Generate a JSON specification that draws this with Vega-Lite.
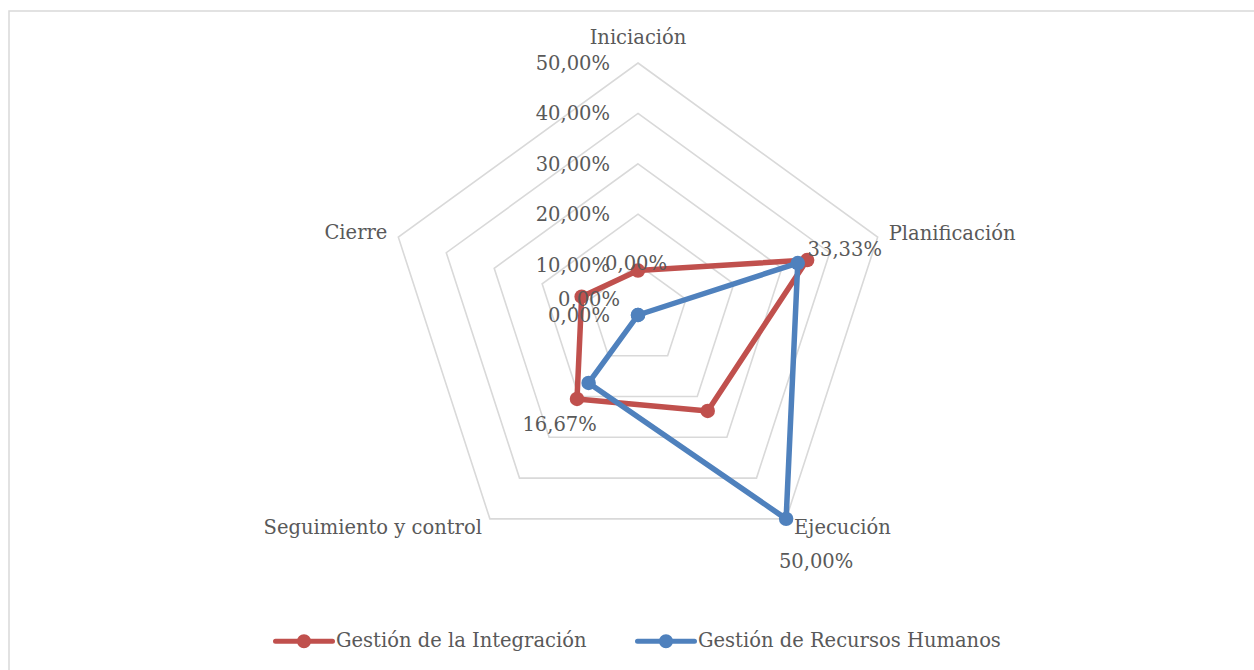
{
 "$schema": "https://vega.github.io/schema/vega-lite/v6.json",
 "width": 1247, "height": 661,
 "autosize": {"type": "none"},
 "padding": {"left": 9, "top": 11, "right": -2, "bottom": -2},
 "config": {
   "view": {"stroke": "#d9d9d9", "strokeWidth": 1.5},
   "locale": {"number": {"decimal": ",", "thousands": ".", "grouping": [3], "currency": ["", " €"]}},
   "text": {"font": "DejaVu Serif", "fontSize": 19.5, "fill": "#595959"}
 },
 "datasets": {
   "series": [
     {"serie": "Gestión de la Integración", "cat": "Iniciación", "idx": 0, "v": 0.0882},
     {"serie": "Gestión de la Integración", "cat": "Planificación", "idx": 1, "v": 0.3529},
     {"serie": "Gestión de la Integración", "cat": "Ejecución", "idx": 2, "v": 0.2353},
     {"serie": "Gestión de la Integración", "cat": "Seguimiento y control", "idx": 3, "v": 0.2059},
     {"serie": "Gestión de la Integración", "cat": "Cierre", "idx": 4, "v": 0.1176},
     {"serie": "Gestión de Recursos Humanos", "cat": "Iniciación", "idx": 0, "v": 0},
     {"serie": "Gestión de Recursos Humanos", "cat": "Planificación", "idx": 1, "v": 0.3333},
     {"serie": "Gestión de Recursos Humanos", "cat": "Ejecución", "idx": 2, "v": 0.5},
     {"serie": "Gestión de Recursos Humanos", "cat": "Seguimiento y control", "idx": 3, "v": 0.1667},
     {"serie": "Gestión de Recursos Humanos", "cat": "Cierre", "idx": 4, "v": 0}
   ],
   "grid": [
     {"level": 0.1, "idx": 0}, {"level": 0.1, "idx": 1}, {"level": 0.1, "idx": 2}, {"level": 0.1, "idx": 3}, {"level": 0.1, "idx": 4},
     {"level": 0.2, "idx": 0}, {"level": 0.2, "idx": 1}, {"level": 0.2, "idx": 2}, {"level": 0.2, "idx": 3}, {"level": 0.2, "idx": 4},
     {"level": 0.3, "idx": 0}, {"level": 0.3, "idx": 1}, {"level": 0.3, "idx": 2}, {"level": 0.3, "idx": 3}, {"level": 0.3, "idx": 4},
     {"level": 0.4, "idx": 0}, {"level": 0.4, "idx": 1}, {"level": 0.4, "idx": 2}, {"level": 0.4, "idx": 3}, {"level": 0.4, "idx": 4},
     {"level": 0.5, "idx": 0}, {"level": 0.5, "idx": 1}, {"level": 0.5, "idx": 2}, {"level": 0.5, "idx": 3}, {"level": 0.5, "idx": 4}
   ],
   "ticks": [
     {"level": 0, "idx": 0}, {"level": 0.1, "idx": 0}, {"level": 0.2, "idx": 0},
     {"level": 0.3, "idx": 0}, {"level": 0.4, "idx": 0}, {"level": 0.5, "idx": 0}
   ],
   "cats": [
     {"cat": "Iniciación", "idx": 0, "level": 0.5},
     {"cat": "Planificación", "idx": 1, "level": 0.5},
     {"cat": "Ejecución", "idx": 2, "level": 0.5},
     {"cat": "Seguimiento y control", "idx": 3, "level": 0.5},
     {"cat": "Cierre", "idx": 4, "level": 0.5}
   ]
 },
 "encoding": {
   "x": {"field": "px", "type": "quantitative", "axis": null, "scale": {"domain": [-1.248016, 1.22619], "nice": false, "zero": false}},
   "y": {"field": "py", "type": "quantitative", "axis": null, "scale": {"domain": [-0.708333, 0.603175], "nice": false, "zero": false}}
 },
 "layer": [
   {
     "data": {"name": "grid"},
     "transform": [
       {"calculate": "PI/2 - datum.idx*2*PI/5", "as": "a"},
       {"calculate": "datum.level*cos(datum.a)", "as": "px"},
       {"calculate": "datum.level*sin(datum.a)", "as": "py"}
     ],
     "mark": {"type": "line", "interpolate": "linear-closed", "stroke": "#d9d9d9", "strokeWidth": 1.6},
     "encoding": {"detail": {"field": "level"}, "order": {"field": "idx"}}
   },
   {
     "data": {"name": "series"},
     "transform": [
       {"calculate": "PI/2 - datum.idx*2*PI/5", "as": "a"},
       {"calculate": "datum.v*cos(datum.a)", "as": "px"},
       {"calculate": "datum.v*sin(datum.a)", "as": "py"}
     ],
     "mark": {"type": "line", "interpolate": "linear-closed", "strokeWidth": 5.5, "strokeJoin": "round"},
     "encoding": {
       "order": {"field": "idx"},
       "color": {"field": "serie", "type": "nominal",
         "scale": {"domain": ["Gestión de la Integración", "Gestión de Recursos Humanos"], "range": ["#C0504D", "#4F81BD"]},
         "legend": {"title": null, "orient": "none", "legendX": 264, "legendY": 599, "direction": "horizontal",
           "symbolType": "M-1,0L1,0M-0.16,0A0.16,0.16,0,1,1,0.16,0A0.16,0.16,0,1,1,-0.16,0Z",
           "symbolSize": 3249, "symbolStrokeWidth": 5, "symbolOpacity": 1,
           "labelFont": "DejaVu Serif", "labelFontSize": 19.5, "labelColor": "#595959", "labelOffset": 1,
           "columnPadding": 40, "padding": 0, "labelLimit": 400,
           "encode": {"symbols": {"update": {"fill": {"scale": "color", "field": "value"}, "stroke": {"scale": "color", "field": "value"}, "strokeCap": {"value": "round"}}}}}
       }
     }
   },
   {
     "data": {"name": "series"},
     "transform": [
       {"calculate": "PI/2 - datum.idx*2*PI/5", "as": "a"},
       {"calculate": "datum.v*cos(datum.a)", "as": "px"},
       {"calculate": "datum.v*sin(datum.a)", "as": "py"}
     ],
     "mark": {"type": "point", "filled": true, "size": 210, "opacity": 1},
     "encoding": {
       "color": {"field": "serie", "type": "nominal",
         "scale": {"domain": ["Gestión de la Integración", "Gestión de Recursos Humanos"], "range": ["#C0504D", "#4F81BD"]},
         "legend": {"title": null, "orient": "none", "legendX": 264, "legendY": 599, "direction": "horizontal",
           "symbolType": "M-1,0L1,0M-0.16,0A0.16,0.16,0,1,1,0.16,0A0.16,0.16,0,1,1,-0.16,0Z",
           "symbolSize": 3249, "symbolStrokeWidth": 5, "symbolOpacity": 1,
           "labelFont": "DejaVu Serif", "labelFontSize": 19.5, "labelColor": "#595959", "labelOffset": 1,
           "columnPadding": 40, "padding": 0, "labelLimit": 400,
           "encode": {"symbols": {"update": {"fill": {"scale": "color", "field": "value"}, "stroke": {"scale": "color", "field": "value"}, "strokeCap": {"value": "round"}}}}}
       }
     }
   },
   {
     "data": {"name": "ticks"},
     "transform": [
       {"calculate": "PI/2 - datum.idx*2*PI/5", "as": "a"},
       {"calculate": "datum.level*cos(datum.a)", "as": "px"},
       {"calculate": "datum.level*sin(datum.a)", "as": "py"}
     ],
     "mark": {"type": "text", "align": "right", "baseline": "middle", "dx": -28, "dy": 1},
     "encoding": {"text": {"field": "level", "type": "quantitative", "format": ".2%"}}
   },
   {
     "data": {"name": "cats"},
     "transform": [
       {"filter": "datum.idx == 0"},
       {"calculate": "PI/2 - datum.idx*2*PI/5", "as": "a"},
       {"calculate": "datum.level*cos(datum.a)", "as": "px"},
       {"calculate": "datum.level*sin(datum.a)", "as": "py"}
     ],
     "mark": {"type": "text", "align": "center", "baseline": "middle", "dy": -25},
     "encoding": {"text": {"field": "cat"}}
   },
   {
     "data": {"name": "cats"},
     "transform": [
       {"filter": "datum.idx == 1"},
       {"calculate": "PI/2 - datum.idx*2*PI/5", "as": "a"},
       {"calculate": "datum.level*cos(datum.a)", "as": "px"},
       {"calculate": "datum.level*sin(datum.a)", "as": "py"}
     ],
     "mark": {"type": "text", "align": "left", "baseline": "middle", "dx": 11, "dy": -3},
     "encoding": {"text": {"field": "cat"}}
   },
   {
     "data": {"name": "cats"},
     "transform": [
       {"filter": "datum.idx == 2"},
       {"calculate": "PI/2 - datum.idx*2*PI/5", "as": "a"},
       {"calculate": "datum.level*cos(datum.a)", "as": "px"},
       {"calculate": "datum.level*sin(datum.a)", "as": "py"}
     ],
     "mark": {"type": "text", "align": "left", "baseline": "middle", "dx": 8, "dy": 9},
     "encoding": {"text": {"field": "cat"}}
   },
   {
     "data": {"name": "cats"},
     "transform": [
       {"filter": "datum.idx == 3"},
       {"calculate": "PI/2 - datum.idx*2*PI/5", "as": "a"},
       {"calculate": "datum.level*cos(datum.a)", "as": "px"},
       {"calculate": "datum.level*sin(datum.a)", "as": "py"}
     ],
     "mark": {"type": "text", "align": "right", "baseline": "middle", "dx": -8, "dy": 9},
     "encoding": {"text": {"field": "cat"}}
   },
   {
     "data": {"name": "cats"},
     "transform": [
       {"filter": "datum.idx == 4"},
       {"calculate": "PI/2 - datum.idx*2*PI/5", "as": "a"},
       {"calculate": "datum.level*cos(datum.a)", "as": "px"},
       {"calculate": "datum.level*sin(datum.a)", "as": "py"}
     ],
     "mark": {"type": "text", "align": "right", "baseline": "middle", "dx": -11, "dy": -4},
     "encoding": {"text": {"field": "cat"}}
   },
   {
     "data": {"name": "series"},
     "transform": [
       {"filter": "datum.serie == 'Gestión de Recursos Humanos' && datum.idx == 0"},
       {"calculate": "PI/2 - datum.idx*2*PI/5", "as": "a"},
       {"calculate": "datum.v*cos(datum.a)", "as": "px"},
       {"calculate": "datum.v*sin(datum.a)", "as": "py"}
     ],
     "mark": {"type": "text", "align": "center", "baseline": "middle", "dx": -2, "dy": -51},
     "encoding": {"text": {"field": "v", "type": "quantitative", "format": ".2%"}}
   },
   {
     "data": {"name": "series"},
     "transform": [
       {"filter": "datum.serie == 'Gestión de Recursos Humanos' && datum.idx == 1"},
       {"calculate": "PI/2 - datum.idx*2*PI/5", "as": "a"},
       {"calculate": "datum.v*cos(datum.a)", "as": "px"},
       {"calculate": "datum.v*sin(datum.a)", "as": "py"}
     ],
     "mark": {"type": "text", "align": "center", "baseline": "middle", "dx": 47, "dy": -13},
     "encoding": {"text": {"field": "v", "type": "quantitative", "format": ".2%"}}
   },
   {
     "data": {"name": "series"},
     "transform": [
       {"filter": "datum.serie == 'Gestión de Recursos Humanos' && datum.idx == 2"},
       {"calculate": "PI/2 - datum.idx*2*PI/5", "as": "a"},
       {"calculate": "datum.v*cos(datum.a)", "as": "px"},
       {"calculate": "datum.v*sin(datum.a)", "as": "py"}
     ],
     "mark": {"type": "text", "align": "center", "baseline": "middle", "dx": 30, "dy": 43},
     "encoding": {"text": {"field": "v", "type": "quantitative", "format": ".2%"}}
   },
   {
     "data": {"name": "series"},
     "transform": [
       {"filter": "datum.serie == 'Gestión de Recursos Humanos' && datum.idx == 3"},
       {"calculate": "PI/2 - datum.idx*2*PI/5", "as": "a"},
       {"calculate": "datum.v*cos(datum.a)", "as": "px"},
       {"calculate": "datum.v*sin(datum.a)", "as": "py"}
     ],
     "mark": {"type": "text", "align": "center", "baseline": "middle", "dx": -29, "dy": 42},
     "encoding": {"text": {"field": "v", "type": "quantitative", "format": ".2%"}}
   },
   {
     "data": {"name": "series"},
     "transform": [
       {"filter": "datum.serie == 'Gestión de Recursos Humanos' && datum.idx == 4"},
       {"calculate": "PI/2 - datum.idx*2*PI/5", "as": "a"},
       {"calculate": "datum.v*cos(datum.a)", "as": "px"},
       {"calculate": "datum.v*sin(datum.a)", "as": "py"}
     ],
     "mark": {"type": "text", "align": "center", "baseline": "middle", "dx": -49, "dy": -15},
     "encoding": {"text": {"field": "v", "type": "quantitative", "format": ".2%"}}
   }
 ]
}
